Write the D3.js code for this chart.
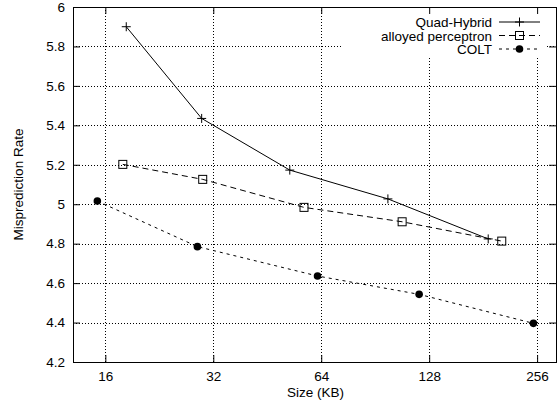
<!doctype html>
<html>
<head>
  <meta charset="UTF-8">
  <script src="https://d3js.org/d3.v7.min.js"></script>
  <style>
    body { margin: 0; background: #fff; }
    text { font-family: "Liberation Sans", Arial, sans-serif; font-size: 13.5px; fill: #000; }
  </style>
</head>
<body>
<svg width="559" height="407"></svg>
<script>
// tick values
const xTicks = [16, 32, 64, 128, 256];
const yTicks = [4.2, 4.4, 4.6, 4.8, 5, 5.2, 5.4, 5.6, 5.8, 6];

// series (size in KB, misprediction rate)
const quadSizes  = [18.3, 29.7, 52.3, 98.2, 187];
const quadRates  = [5.90, 5.435, 5.173, 5.027, 4.824];
const alloySizes = [17.9, 29.9, 57.3, 107.6, 204];
const alloyRates = [5.202, 5.126, 4.984, 4.911, 4.813];
const coltSizes  = [15.2, 28.9, 62.5, 120, 250];
const coltRates  = [5.016, 4.785, 4.636, 4.543, 4.396];

const seriesNames = ["Quad-Hybrid", "alloyed perceptron", "COLT"];

function draw() {
  var svg = d3.select("svg");
  var pLeft = 73, pRight = 556, pTop = 7, pBottom = 362;

  var x = d3.scaleLog().base(2).domain([13, 289]).range([pLeft, pRight]);
  var y = d3.scaleLinear().domain([4.2, 6]).range([pBottom, pTop]);

  // grid
  var grid = svg.append("g").attr("stroke", "#000").attr("stroke-width", 1)
    .attr("stroke-dasharray", "1,2").attr("shape-rendering", "crispEdges");
  xTicks.forEach(function(t) {
    grid.append("line").attr("x1", Math.round(x(t)) + 0.5).attr("x2", Math.round(x(t)) + 0.5)
      .attr("y1", pTop).attr("y2", pBottom);
  });
  yTicks.slice(1, -1).forEach(function(t) {
    grid.append("line").attr("y1", Math.round(y(t)) + 0.5).attr("y2", Math.round(y(t)) + 0.5)
      .attr("x1", pLeft).attr("x2", pRight);
  });

  // key area is blanked
  svg.append("rect").attr("x", 342).attr("y", pTop + 1).attr("width", 204).attr("height", 48).attr("fill", "#fff");

  // axes (inward ticks, mirrored)
  var tl = 7;
  function fixText(g) {
    g.select(".domain").remove();
    g.selectAll("text").style("font-size", "13.5px").style("font-family", "Liberation Sans, Arial");
  }
  svg.append("g").attr("transform", "translate(0," + pBottom + ")")
    .call(d3.axisBottom(x).tickValues(xTicks).tickFormat(d3.format("d")).tickSizeInner(-tl).tickSizeOuter(0).tickPadding(tl + 2))
    .call(fixText);
  svg.append("g").attr("transform", "translate(0," + pTop + ")")
    .call(d3.axisTop(x).tickValues(xTicks).tickFormat("").tickSizeInner(-tl).tickSizeOuter(0))
    .call(fixText);
  svg.append("g").attr("transform", "translate(" + pLeft + ",0)")
    .call(d3.axisLeft(y).tickValues(yTicks).tickFormat(d3.format("")).tickSizeInner(-tl).tickSizeOuter(0).tickPadding(tl + 1))
    .call(fixText);
  svg.append("g").attr("transform", "translate(" + pRight + ",0)")
    .call(d3.axisRight(y).tickValues(yTicks).tickFormat("").tickSizeInner(-tl).tickSizeOuter(0))
    .call(fixText);

  svg.append("rect").attr("x", pLeft + 0.5).attr("y", pTop + 0.5)
    .attr("width", pRight - pLeft).attr("height", pBottom - pTop)
    .attr("fill", "none").attr("stroke", "#000").attr("shape-rendering", "crispEdges");

  // labels
  svg.append("text").attr("x", (pLeft + pRight) / 2 + 1).attr("y", 397).attr("text-anchor", "middle").text("Size (KB)");
  svg.append("text").attr("transform", "translate(23," + (pTop + pBottom) / 2 + ") rotate(-90)")
    .attr("text-anchor", "middle").text("Misprediction Rate");

  // markers
  function plus(g, cx, cy) {
    g.append("path").attr("d", "M" + (cx - 4.5) + "," + cy + "H" + (cx + 4.5) + "M" + cx + "," + (cy - 4.5) + "V" + (cy + 4.5))
      .attr("stroke", "#000").attr("fill", "none");
  }
  function square(g, cx, cy) {
    g.append("rect").attr("x", cx - 4).attr("y", cy - 4).attr("width", 8).attr("height", 8)
      .attr("stroke", "#000").attr("fill", "none");
  }
  function dot(g, cx, cy) {
    g.append("circle").attr("cx", cx).attr("cy", cy).attr("r", 3.8).attr("fill", "#000");
  }

  var series = [
    {sizes: quadSizes, rates: quadRates, dash: null, mark: plus},
    {sizes: alloySizes, rates: alloyRates, dash: "6,4", mark: square},
    {sizes: coltSizes, rates: coltRates, dash: "3,4", mark: dot}
  ];

  var line = d3.line().x(function(d) { return x(d[0]); }).y(function(d) { return y(d[1]); });

  series.forEach(function(s, i) {
    var pts = s.sizes.map(function(v, j) { return [v, s.rates[j]]; });
    var g = svg.append("g");
    g.append("path").datum(pts).attr("d", line).attr("fill", "none").attr("stroke", "#000")
      .attr("stroke-width", 1).attr("stroke-dasharray", s.dash);
    pts.forEach(function(p) { s.mark(g, x(p[0]), y(p[1])); });

    // key entry
    var ky = 22 + i * 13.5;
    svg.append("text").attr("x", 492).attr("y", ky + 5).attr("text-anchor", "end").text(seriesNames[i]);
    svg.append("line").attr("x1", 499).attr("x2", 540).attr("y1", ky).attr("y2", ky)
      .attr("stroke", "#000").attr("stroke-dasharray", s.dash);
    s.mark(svg, 519.5, ky);
  });
}
draw();
</script>
</body>
</html>
